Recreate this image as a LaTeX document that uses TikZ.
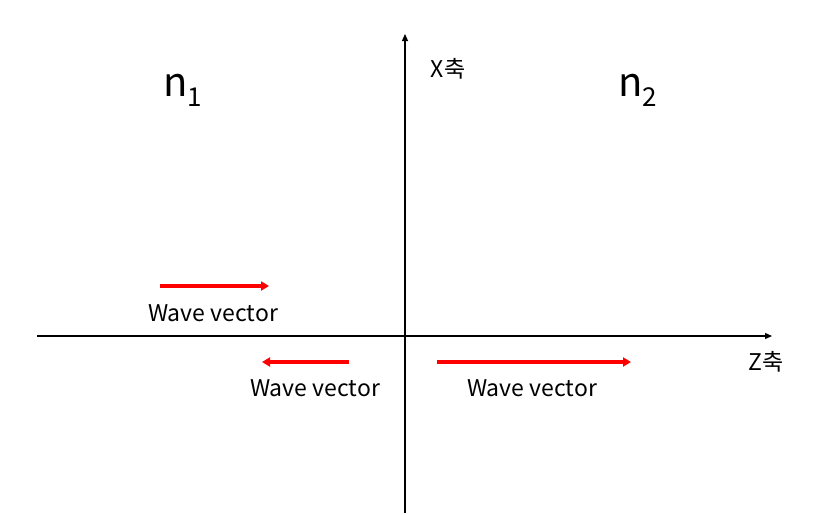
\documentclass[tikz,border=0pt]{standalone}
\usepackage{fontspec}
\setmainfont{Noto Sans CJK KR}
\usetikzlibrary{arrows.meta}
\newcommand{\medsub}[1]{\raisebox{-10pt}{\fontsize{26}{28}\selectfont #1}}
\begin{document}
\begin{tikzpicture}[x=1pt,y=-1pt,
  axis/.style={line width=1.2pt,-{Triangle[length=7pt,width=6pt]}},
  wave/.style={red,line width=3.2pt,-{Triangle[length=8pt,width=9pt]}},
  lbl/.style={inner sep=0pt,font=\fontsize{23}{26}\selectfont},
  axlbl/.style={inner sep=0pt,font=\fontsize{23}{26}\selectfont},
  medium/.style={inner sep=0pt,font=\fontsize{40}{44}\selectfont}]
\useasboundingbox (0,0) rectangle (840,514);
\coordinate (zs) at (37,336);
\coordinate (ze) at (772,336);
\coordinate (xs) at (405,513);
\coordinate (xe) at (405,34);
\draw[axis] (zs) -- (ze);
\draw[axis] (xs) -- (xe);
\node[axlbl] (xl) at (448,69) {X축};
\node[axlbl] (zl) at (766,362) {Z축};
\node[medium] (n1) at (183,90) {n\medsub{1}};
\node[medium] (n2) at (638,90) {n\medsub{2}};
\coordinate (a1s) at (160,286);
\coordinate (a1e) at (269,286);
\coordinate (a2s) at (349,362);
\coordinate (a2e) at (262,362);
\coordinate (a3s) at (437,362);
\coordinate (a3e) at (631,362);
\draw[wave] (a1s) -- (a1e);
\draw[wave] (a2s) -- (a2e);
\draw[wave] (a3s) -- (a3e);
\node[lbl] (w1) at (213,313) {Wave vector};
\node[lbl] (w2) at (315,388) {Wave vector};
\node[lbl] (w3) at (532,388) {Wave vector};
\end{tikzpicture}
\end{document}
